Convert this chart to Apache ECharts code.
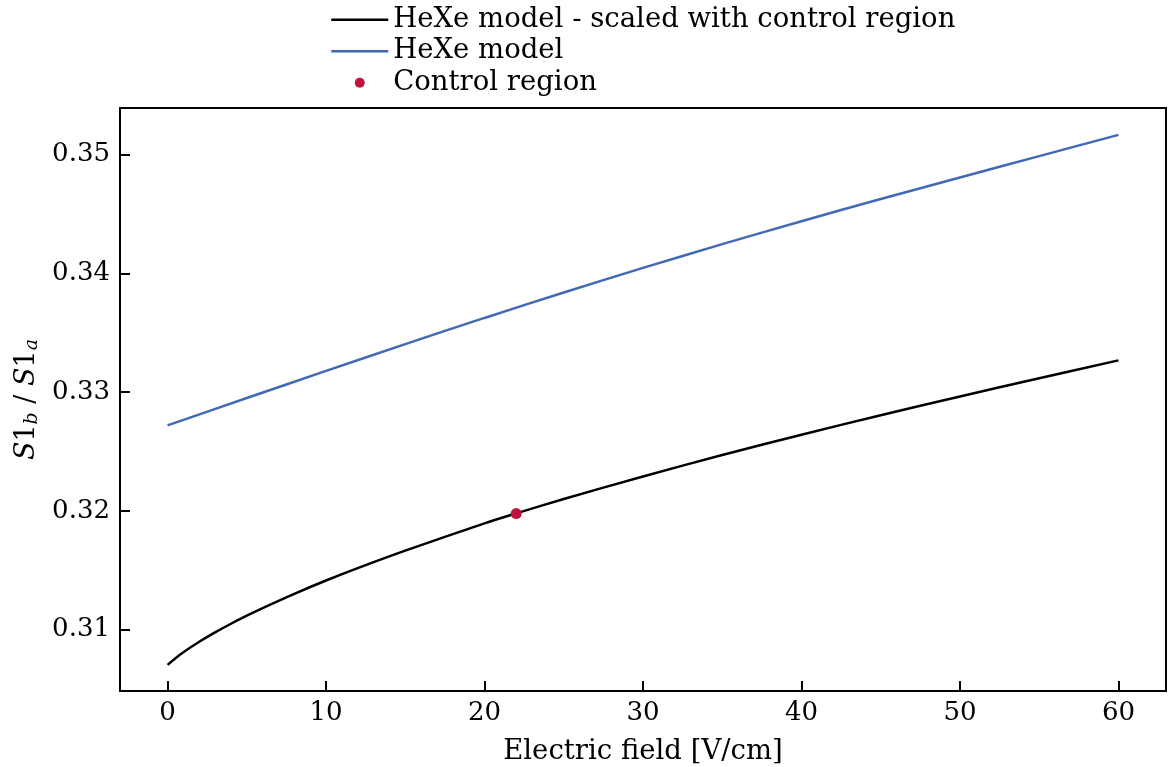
<!DOCTYPE html>
<html>
<head>
<meta charset="utf-8">
<script src="https://cdn.jsdelivr.net/npm/echarts@6/dist/echarts.min.js"></script>
<style>
html,body{margin:0;padding:0;background:#fff;}
#chart{width:1168px;height:767px;}
</style>
</head>
<body>
<div id="chart"></div>
<script>
// Data
const fieldScaled = [0, 0.5, 1, 2, 3, 4, 5, 6, 8, 10, 12, 15, 20, 22, 25, 30, 35, 40, 45, 50, 55, 60];
const ratioScaled = [0.30704, 0.30760, 0.30810, 0.30898, 0.30977, 0.31050, 0.31118, 0.31182, 0.31302, 0.31414, 0.31518, 0.31665, 0.31895, 0.31979, 0.32100, 0.32290, 0.32470, 0.32641, 0.32805, 0.32963, 0.33117, 0.33267];
const fieldModel = [0, 5, 10, 15, 20, 25, 30, 35, 40, 45, 50, 55, 60];
const ratioModel = [0.32720, 0.32950, 0.33178, 0.33404, 0.33624, 0.33838, 0.34045, 0.34245, 0.34438, 0.34625, 0.34806, 0.34986, 0.35165];
const controlField = [22];
const controlRatio = [0.31977];
const seriesNames = ['HeXe model - scaled with control region', 'HeXe model', 'Control region'];

const FONT = 'DejaVu Serif';
const chart = echarts.init(document.getElementById('chart'));
const zip = (xs, ys) => xs.map((x, i) => [x, ys[i]]);

chart.setOption({
  animation: false,
  backgroundColor: '#fff',
  textStyle: { fontFamily: FONT, color: '#000' },
  grid: { left: 120, right: 2, top: 108, bottom: 76, outerBoundsMode: 'none', containLabel: false,
    show: true, borderColor: '#000', borderWidth: 2, backgroundColor: 'transparent' },
  legend: {
    orient: 'vertical', left: 330, top: 4, padding: 0,
    itemWidth: 57, itemHeight: 10, itemGap: 0,
    textStyle: { fontFamily: FONT, fontSize: 27.5, color: '#000', lineHeight: 31.5 },
    data: [
      { name: seriesNames[0], itemStyle: { opacity: 0 }, lineStyle: { width: 2.5 } },
      { name: seriesNames[1], itemStyle: { opacity: 0 }, lineStyle: { width: 2.5 } },
      { name: seriesNames[2], icon: 'circle' }
    ]
  },
  xAxis: {
    type: 'value', min: -3, max: 63, splitNumber: 7,
    name: 'Electric field [V/cm]', nameLocation: 'middle', nameGap: 47,
    nameTextStyle: { fontFamily: FONT, fontSize: 27.5, color: '#000' },
    axisLine: { show: true, onZero: false, lineStyle: { color: '#000', width: 2 } },
    axisTick: { show: true, inside: true, length: 10, lineStyle: { color: '#000', width: 2 } },
    axisLabel: { fontFamily: FONT, fontSize: 26, color: '#000', margin: 9, showMinLabel: false, showMaxLabel: false },
    splitLine: { show: false }
  },
  yAxis: {
    type: 'value', min: 0.30484, max: 0.35391, splitNumber: 5,
    name: '{it|S}{n|1}{sub|b}{n| / }{it|S}{n|1}{sub|a}', nameLocation: 'middle', nameGap: 78, nameRotate: 90,
    nameTextStyle: {
      fontFamily: FONT, fontSize: 27, color: '#000',
      rich: {
        it: { fontFamily: FONT, fontSize: 27, fontStyle: 'italic', color: '#000' },
        n: { fontFamily: FONT, fontSize: 27, color: '#000' },
        sub: { fontFamily: FONT, fontSize: 19, fontStyle: 'italic', color: '#000', verticalAlign: 'bottom', padding: [9, 0, 0, 0] }
      }
    },
    axisLine: { show: true, onZero: false, lineStyle: { color: '#000', width: 2 } },
    axisTick: { show: true, inside: true, length: 10, lineStyle: { color: '#000', width: 2 } },
    axisLabel: { fontFamily: FONT, fontSize: 26, color: '#000', margin: 10, showMinLabel: false, showMaxLabel: false,
      formatter: v => v.toFixed(2) },
    splitLine: { show: false }
  },
  series: [
    { name: seriesNames[0], type: 'line', data: zip(fieldScaled, ratioScaled), smooth: 0.3, symbol: 'none',
      lineStyle: { color: '#000', width: 2.5 }, itemStyle: { color: '#000' }, z: 2 },
    { name: seriesNames[1], type: 'line', data: zip(fieldModel, ratioModel), smooth: 0.3, symbol: 'none',
      lineStyle: { color: '#4169b4', width: 2.5 }, itemStyle: { color: '#4169b4' }, z: 2 },
    { name: seriesNames[2], type: 'scatter', data: zip(controlField, controlRatio), symbol: 'circle', symbolSize: 11,
      itemStyle: { color: '#c1113e', opacity: 1 }, z: 3 }
  ]
});
</script>
</body>
</html>
